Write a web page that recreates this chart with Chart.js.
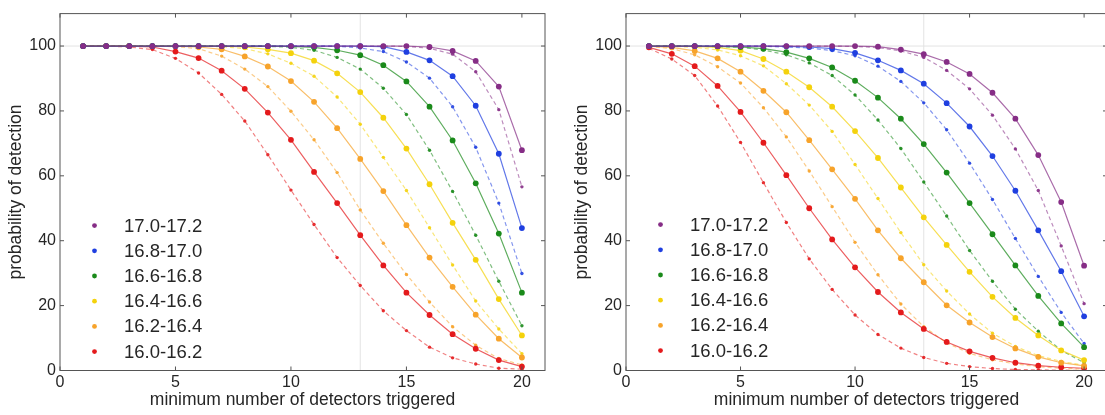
<!DOCTYPE html>
<html><head><meta charset="utf-8">
<script src="https://cdn.jsdelivr.net/npm/chart.js@4.4.1/dist/chart.umd.min.js"></script>
<style>
html,body{margin:0;padding:0;background:#fff;overflow:hidden;width:1105px;height:415px;}
#wrap{position:relative;width:1105px;height:415px;overflow:hidden;background:#fff;}
.panel{position:absolute;top:0;height:415px;width:560px;}
#p1{left:0;}
#p2{left:566px;}
</style></head><body>
<div id="wrap">
<div class="panel" id="p1"><canvas id="c1" width="560" height="415"></canvas></div>
<div class="panel" id="p2"><canvas id="c2" width="560" height="415"></canvas></div>
</div>
<script>
// ---------- data ----------
const detectors = [1,2,3,4,5,6,7,8,9,10,11,12,13,14,15,16,17,18,19,20];
const binLabels = ['17.0-17.2','16.8-17.0','16.6-16.8','16.4-16.6','16.2-16.4','16.0-16.2'];
const xTicks = [0,5,10,15,20];
const yTicks = [0,20,40,60,80,100];
const xMin = 0, xMax = 21, yMin = 0, yMax = 110;
const refDetectors = 13;
const refProbability = 100;
const xTitle = 'minimum number of detectors triggered';
const yTitle = 'probability of detection';

// left panel (solid = large dots, dashed = small dots)
const leftSolid170  = [100,100,100,100,100,100,100,100,100,100,100,100,100,100,100,99.7,98.5,95.4,87.5,67.9];
const leftDashed170 = [100,100,100,100,100,100,100,100,100,100,100,100,100,100,99.9,99.3,97.5,92.1,80.4,56.6];
const leftSolid168  = [100,100,100,100,100,100,100,100,100,100,100,100,100,99.8,98.2,95.6,90.7,81.6,66.8,43.9];
const leftDashed168 = [100,100,100,100,100,100,100,100,100,100,100,99.9,99.4,98.3,95.1,90.1,81.3,68.8,51.6,29.9];
const leftSolid166  = [100,100,100,100,100,100,100,100,100,99.9,99.6,98.7,97.2,94.1,89.1,81.3,70.9,57.7,42.2,24.0];
const leftDashed166 = [100,100,100,100,100,100,100,100,99.9,99.6,98.7,96.5,92.9,87.0,78.9,67.9,55.2,41.7,27.5,13.8];
const leftSolid164  = [100,100,100,100,100,100,100,99.7,99.0,97.8,95.5,91.6,85.8,77.9,68.4,57.4,45.5,34.1,22.0,10.8];
const leftDashed164 = [100,100,100,100,100,100,99.8,99.2,97.6,94.7,90.7,84.3,75.9,65.7,55.5,44.0,32.5,21.4,12.8,5.2];
const leftSolid162  = [100,100,100,100,100,99.7,99.0,96.8,93.7,89.2,82.8,74.7,65.2,55.3,44.8,34.8,25.8,17.2,9.8,4.0];
const leftDashed162 = [100,100,100,100,99.8,99.2,96.9,92.9,87.5,79.9,71.1,61.0,49.5,39.2,29.6,21.1,13.5,7.8,3.7,1.7];
const leftSolid160  = [100,100,100,99.7,98.3,96.3,92.4,86.8,79.5,71.1,61.2,51.6,41.7,32.4,24.0,17.1,11.2,6.7,3.2,1.2];
const leftDashed160 = [100,100,99.7,98.9,96.2,91.7,85.1,76.9,66.5,55.6,45.0,34.8,26.2,18.4,12.3,7.2,3.9,2.0,0.7,0.4];

// right panel
const rightSolid170  = [100,100,100,100,100,100,100,100,100,100,99.8,98.9,97.5,95.1,91.4,85.6,77.6,66.4,51.9,32.3];
const rightDashed170 = [100,100,100,100,100,100,100,100,100,99.9,99.5,98.5,96.5,92.5,86.8,78.7,68.3,55.5,38.4,20.6];
const rightSolid168  = [100,100,100,100,100,100,99.9,99.7,99.2,97.9,95.6,92.5,88.4,82.4,75.2,66.1,55.4,43.2,30.6,16.7];
const rightDashed168 = [100,100,100,100,100,99.9,99.7,99.4,98.6,97.0,93.8,89.1,82.5,74.2,63.9,52.7,40.7,29.0,17.9,8.3];
const rightSolid166  = [100,100,100,99.9,99.7,99.2,98.1,96.2,93.4,89.3,84.1,77.6,69.8,61.0,51.6,42.0,32.4,23.0,14.5,7.2];
const rightDashed166 = [100,100,99.9,99.8,99.6,98.8,97.3,94.8,90.9,84.9,77.2,68.4,58.1,47.6,37.0,27.5,18.9,12.1,6.2,2.4];
const rightSolid164  = [100,100,99.9,99.6,98.6,96.0,92.1,87.3,81.3,73.8,65.5,56.4,47.2,38.7,30.4,22.7,16.2,10.8,6.2,3.2];
const rightDashed164 = [100,99.9,99.6,98.8,97.0,93.9,88.4,81.8,73.7,63.5,53.0,42.5,32.6,24.5,17.4,11.5,7.4,4.6,2.8,1.6];
const rightSolid162  = [100,99.6,98.5,96.2,92.1,86.2,79.6,71.0,62.0,52.9,43.2,34.6,27.2,20.1,14.8,10.3,6.8,4.2,2.4,1.4];
const rightDashed162 = [99.9,99.2,97.3,93.6,88.6,81.0,72.0,61.5,50.5,39.5,29.5,20.5,13.5,8.5,5.3,3.3,2.0,1.2,0.7,0.4];
const rightSolid160  = [99.6,97.6,93.8,87.7,79.7,70.2,60.2,50.0,40.4,31.8,24.2,17.9,12.8,8.8,5.9,3.9,2.4,1.5,1.0,0.7];
const rightDashed160 = [99.3,96.0,90.9,81.5,70.3,57.9,45.6,34.4,25.0,17.1,11.1,6.9,4.0,2.2,1.2,0.6,0.3,0.2,0.1,0.05];

// ---------- styles ----------
const binColors = ['#862d86','#1f3fe0','#1a8a1a','#f4d20c','#f7a32a','#e41a1c'];
const FONT = '"Liberation Sans", Arial, Helvetica, sans-serif';
const TEXT = '#262626';
const FRAME = '#555555';

function rgba(hex, a) {
  const n = parseInt(hex.slice(1), 16);
  return `rgba(${(n>>16)&255},${(n>>8)&255},${n&255},${a})`;
}
const pts = arr => arr.map((v, i) => ({x: detectors[i], y: v}));

const framePlugin = {
  id: 'frame',
  afterDatasetsDraw(chart) {
    const {ctx, chartArea: a, scales} = chart;
    ctx.save();
    ctx.strokeStyle = FRAME;
    ctx.lineWidth = 1;
    ctx.strokeRect(a.left, a.top, a.right - a.left, a.bottom - a.top);
    ctx.beginPath();
    xTicks.forEach(v => {
      const x = scales.x.getPixelForValue(v);
      ctx.moveTo(x, a.bottom); ctx.lineTo(x, a.bottom - 4);
      ctx.moveTo(x, a.top); ctx.lineTo(x, a.top + 4);
    });
    yTicks.forEach(v => {
      const y = scales.y.getPixelForValue(v);
      ctx.moveTo(a.left, y); ctx.lineTo(a.left + 4, y);
      ctx.moveTo(a.right, y); ctx.lineTo(a.right - 4, y);
    });
    ctx.stroke();
    ctx.restore();
  }
};

const legendPlugin = {
  id: 'binLegend',
  afterDraw(chart, args, opts) {
    const {ctx, chartArea: a} = chart;
    ctx.save();
    ctx.font = '18.5px ' + FONT;
    ctx.textBaseline = 'middle';
    ctx.textAlign = 'left';
    binLabels.forEach((lab, i) => {
      const y = a.top + opts.top + i * opts.step;
      ctx.fillStyle = binColors[i];
      ctx.beginPath(); ctx.arc(a.left + 34.5, y, 2.4, 0, Math.PI * 2); ctx.fill();
      ctx.fillStyle = TEXT;
      ctx.fillText(lab, a.left + 64, y + 1);
    });
    ctx.restore();
  }
};

function makeChart(id, solids, dashes, geom) {
  const datasets = [];
  datasets.push({
    data: [{x: refDetectors, y: yMin}, {x: refDetectors, y: yMax}],
    borderColor: '#e3e3e3', borderWidth: 1, pointRadius: 0, order: 100
  });
  datasets.push({
    data: [{x: xMin, y: refProbability}, {x: xMax, y: refProbability}],
    borderColor: '#e3e3e3', borderWidth: 1, pointRadius: 0, order: 100
  });
  binLabels.forEach((lab, i) => {
    const c = binColors[i];
    datasets.push({
      label: lab + ' (dashed)',
      data: pts(dashes[i]),
      borderColor: rgba(c, 0.55), borderWidth: 1.2, borderDash: [4, 3],
      pointRadius: 1.7, pointBackgroundColor: rgba(c, 0.9), pointBorderWidth: 0,
      order: 50
    });
    datasets.push({
      label: lab,
      data: pts(solids[i]),
      borderColor: rgba(c, 0.7), borderWidth: 1.2,
      pointRadius: 2.9, pointBackgroundColor: c, pointBorderWidth: 0,
      order: 10
    });
  });

  return new Chart(document.getElementById(id), {
    type: 'line',
    data: {datasets},
    plugins: [framePlugin, legendPlugin],
    options: {
      responsive: false,
      animation: false,
      devicePixelRatio: 1,
      events: [],
      layout: {padding: {top: geom.top, right: 560 - geom.left - geom.width, left: 0, bottom: 0}},
      elements: {line: {tension: 0}},
      plugins: {
        legend: {display: false},
        tooltip: {enabled: false},
        binLegend: {top: geom.legendTop, step: 25.2}
      },
      scales: {
        x: {
          type: 'linear', min: xMin, max: xMax,
          afterFit: s => { s.height = 415 - geom.bottom; },
          afterBuildTicks: s => { s.ticks = xTicks.map(v => ({value: v})); },
          grid: {display: false, drawTicks: false},
          border: {display: false},
          ticks: {font: {family: FONT, size: 16}, color: TEXT, padding: 2, maxRotation: 0, autoSkip: false},
          title: {display: true, text: xTitle, font: {family: FONT, size: 17.5}, color: TEXT, padding: {top: 0, bottom: 4.5}}
        },
        y: {
          type: 'linear', min: yMin, max: yMax,
          afterFit: s => { s.width = geom.left; },
          afterBuildTicks: s => { s.ticks = yTicks.map(v => ({value: v})); },
          grid: {display: false, drawTicks: false},
          border: {display: false},
          ticks: {font: {family: FONT, size: 16}, color: TEXT, padding: 4},
          title: {display: true, text: yTitle, font: {family: FONT, size: 17.5}, color: TEXT, padding: {top: 5.5, bottom: 0}}
        }
      }
    }
  });
}

makeChart('c1',
  [leftSolid170, leftSolid168, leftSolid166, leftSolid164, leftSolid162, leftSolid160],
  [leftDashed170, leftDashed168, leftDashed166, leftDashed164, leftDashed162, leftDashed160],
  {left: 60, width: 485, top: 8.5, bottom: 370.5, legendTop: 212});
makeChart('c2',
  [rightSolid170, rightSolid168, rightSolid166, rightSolid164, rightSolid162, rightSolid160],
  [rightDashed170, rightDashed168, rightDashed166, rightDashed164, rightDashed162, rightDashed160],
  {left: 60, width: 481, top: 8.5, bottom: 370.5, legendTop: 211});
</script>
</body></html>
